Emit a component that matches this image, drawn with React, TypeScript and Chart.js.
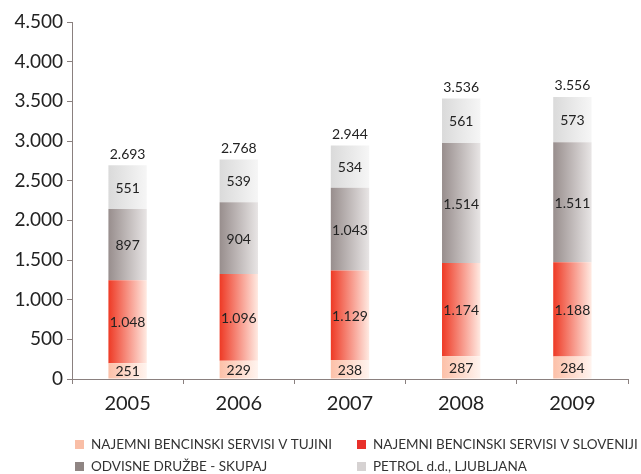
import React, { useEffect, useRef } from "react";
import { Chart, registerables } from "chart.js";

Chart.register(...registerables);

const categories = ["2005", "2006", "2007", "2008", "2009"];
// bar heights as drawn in the reference (the 2005 foreign segment is drawn shorter than its label)
const tujini = [197, 229, 238, 287, 284];
const tujiniLabels = [251, 229, 238, 287, 284];
const slovenija = [1048, 1096, 1129, 1174, 1188];
const odvisne = [897, 904, 1043, 1514, 1511];
const petrol = [551, 539, 534, 561, 573];
const totals = [2693, 2768, 2944, 3536, 3556];
const seriesLabels = [
  "NAJEMNI BENCINSKI SERVISI V TUJINI",
  "NAJEMNI BENCINSKI SERVISI V SLOVENIJI",
  "ODVISNE DRUŽBE - SKUPAJ",
  "PETROL d.d., LJUBLJANA",
];
const legendColors = ["#f9bea6", "#e8302a", "#8f8583", "#d6d2d2"];
const gradients: [string, string][] = [
  ["#fcc0a8", "#fff4ef"],
  ["#ee3a25", "#ffeae2"],
  ["#988e8d", "#e8e5e5"],
  ["#dadada", "#f6f6f6"],
];

const FONT = "Lato, 'DejaVu Sans', sans-serif";
const BAR_PCT = 0.345;

const fmt = (v: number) => v.toLocaleString("de-DE");

export default function App() {
  const ref = useRef<HTMLCanvasElement | null>(null);
  useEffect(() => {
    if (!ref.current) return;
    const makeBg = (si: number) => (ctx: any) => {
      const chart = ctx.chart;
      const xs = chart.scales?.x;
      if (!xs || ctx.dataIndex === undefined) return gradients[si][0];
      const c = xs.getPixelForValue(ctx.dataIndex);
      const hw = ((xs.width / categories.length) * BAR_PCT) / 2;
      if (!isFinite(c) || !isFinite(hw)) return gradients[si][0];
      const g = chart.ctx.createLinearGradient(c - hw, 0, c + hw, 0);
      g.addColorStop(0, gradients[si][0]);
      g.addColorStop(1, gradients[si][1]);
      return g;
    };
    const data = [tujini, slovenija, odvisne, petrol];
    const labelData = [tujiniLabels, slovenija, odvisne, petrol];
    const labelPlugin = {
      id: "labels",
      afterDatasetsDraw(chart: any) {
        const c = chart.ctx;
        c.save();
        c.font = `14px ${FONT}`;
        c.fillStyle = "#222";
        c.textAlign = "center";
        c.textBaseline = "middle";
        chart.data.datasets.forEach((ds: any, di: number) => {
          const meta = chart.getDatasetMeta(di);
          meta.data.forEach((el: any, i: number) => {
            c.fillText(fmt(labelData[di][i]), el.x, (el.y + el.base) / 2 + 1);
          });
        });
        const top = chart.getDatasetMeta(3);
        top.data.forEach((el: any, i: number) => {
          c.fillText(fmt(totals[i]), el.x, el.y - 11);
        });
        c.restore();
      },
      afterDraw(chart: any) {
        const c = chart.ctx;
        c.save();
        c.font = `13.5px ${FONT}`;
        c.textBaseline = "middle";
        c.textAlign = "left";
        const cols = [75, 357];
        const rows = [444, 466];
        seriesLabels.forEach((lab, i) => {
          const x = cols[i % 2];
          const y = rows[Math.floor(i / 2)];
          c.fillStyle = legendColors[i];
          c.fillRect(x, y - 4, 9, 9);
          c.fillStyle = "#333";
          c.fillText(lab, x + 16, y + 1);
        });
        c.restore();
      },
    };
    const chart = new Chart(ref.current, {
      type: "bar",
      data: {
        labels: categories,
        datasets: data.map((d, i) => ({
          label: seriesLabels[i],
          data: d,
          backgroundColor: makeBg(i),
          borderWidth: 0,
          barPercentage: BAR_PCT,
          categoryPercentage: 1,
        })),
      },
      options: {
        animation: false,
        responsive: false,
        layout: { padding: { top: 22, right: 13, bottom: 60, left: 0 } },
        plugins: { legend: { display: false }, tooltip: { enabled: false } },
        scales: {
          x: {
            stacked: true,
            grid: {
              drawOnChartArea: false,
              color: "#8a807f",
              tickLength: 5,
            },
            border: { color: "#8a807f", width: 1 },
            ticks: { color: "#222", font: { family: FONT, size: 20 }, padding: 8 },
            afterFit: (s: any) => {
              s.height = 35;
            },
          },
          y: {
            stacked: true,
            min: 0,
            max: 4500,
            grid: { drawOnChartArea: false, color: "#8a807f", tickLength: 5 },
            border: { color: "#8a807f", width: 1 },
            ticks: {
              stepSize: 500,
              color: "#222",
              font: { family: FONT, size: 19 },
              padding: 4,
              callback: (v: any) => fmt(Number(v)),
            },
            afterFit: (s: any) => {
              s.width = 72;
            },
          },
        },
      },
      plugins: [labelPlugin],
    });
    return () => chart.destroy();
  }, []);
  return (
    <div style={{ position: "fixed", left: 0, top: 0, width: 641, height: 474, background: "#fff" }}>
      <canvas ref={ref} width={641} height={474} style={{ width: 641, height: 474 }} />
    </div>
  );
}
